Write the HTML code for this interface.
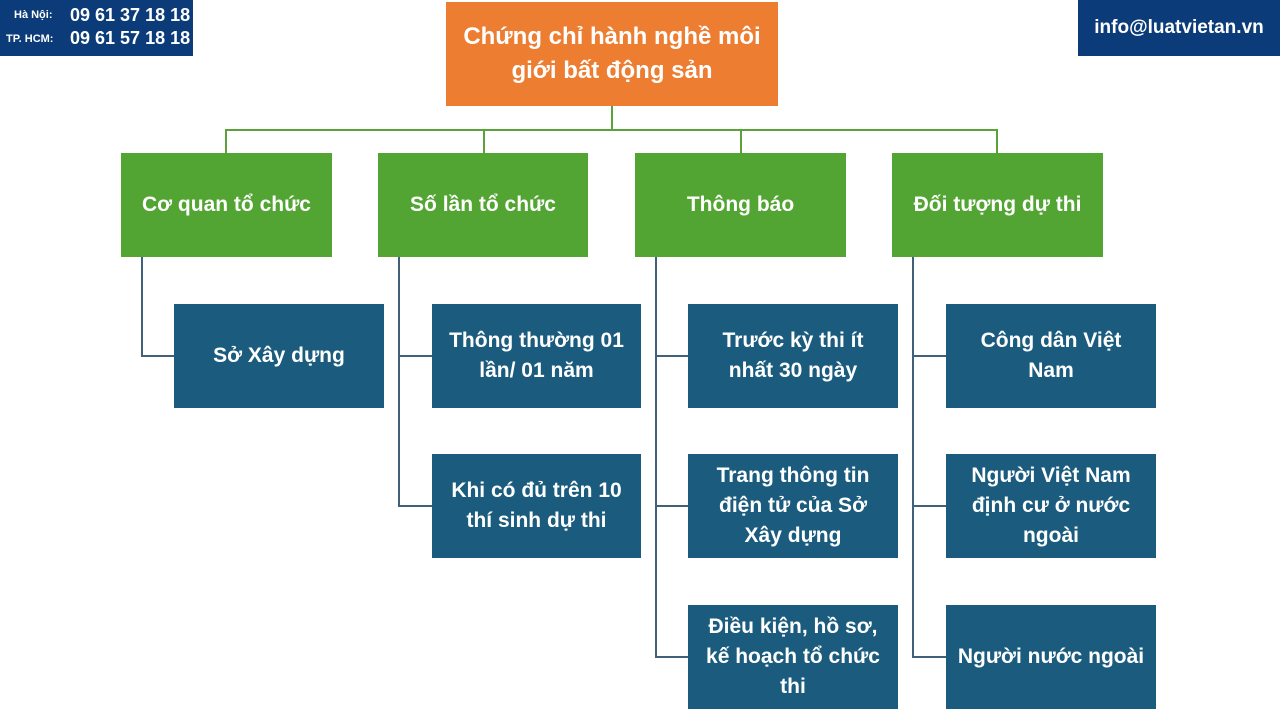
<!DOCTYPE html>
<html><head><meta charset="utf-8"><style>
body{margin:0;width:1280px;height:720px;background:#fff;position:relative;overflow:hidden;font-family:"Liberation Sans","DejaVu Sans",sans-serif}
.b{position:absolute;display:flex;align-items:center;justify-content:center;text-align:center;color:#fff;font-weight:bold;font-size:21px;line-height:30px;box-sizing:border-box;padding:0 4px}
.o{background:#ED7D31;font-size:24px;line-height:34px}
.g{background:#52A532}
.u{background:#1B5C7E}
.l{position:absolute;background:#41607a}
.gl{position:absolute;background:#5aa33a}
.hd{position:absolute;background:#0B3B78;color:#fff;font-weight:bold}
</style></head><body>
<div class="hd" style="left:0;top:0;width:193px;height:56px">
<div style="position:absolute;left:14px;top:9px;font-size:11px">Hà Nội:</div>
<div style="position:absolute;left:6px;top:33px;font-size:11px">TP. HCM:</div>
<div style="position:absolute;left:70px;top:5px;font-size:18px">09 61 37 18 18</div>
<div style="position:absolute;left:70px;top:28px;font-size:18px">09 61 57 18 18</div>
</div>
<div class="hd" style="left:1078px;top:0;width:202px;height:56px;font-size:19px;display:flex;align-items:center;justify-content:center">info@luatvietan.vn</div>

<div class="gl" style="left:611px;top:106px;width:2px;height:24px"></div>
<div class="gl" style="left:225px;top:129px;width:773px;height:2px"></div>
<div class="gl" style="left:225px;top:129px;width:2px;height:24px"></div>
<div class="gl" style="left:483px;top:129px;width:2px;height:24px"></div>
<div class="gl" style="left:740px;top:129px;width:2px;height:24px"></div>
<div class="gl" style="left:996px;top:129px;width:2px;height:24px"></div>

<div class="b o" style="left:446px;top:2px;width:332px;height:104px">Chứng chỉ hành nghề môi<br>giới bất động sản</div>

<div class="b g" style="left:121px;top:153px;width:211px;height:104px">Cơ quan tổ chức</div>
<div class="b g" style="left:378px;top:153px;width:210px;height:104px">Số lần tổ chức</div>
<div class="b g" style="left:635px;top:153px;width:211px;height:104px">Thông báo</div>
<div class="b g" style="left:892px;top:153px;width:211px;height:104px">Đối tượng dự thi</div>

<div class="l" style="left:141px;top:257px;width:2px;height:100px"></div>
<div class="l" style="left:141px;top:355px;width:33px;height:2px"></div>
<div class="l" style="left:398px;top:257px;width:2px;height:250px"></div>
<div class="l" style="left:398px;top:355px;width:34px;height:2px"></div>
<div class="l" style="left:398px;top:505px;width:34px;height:2px"></div>
<div class="l" style="left:655px;top:257px;width:2px;height:401px"></div>
<div class="l" style="left:655px;top:355px;width:33px;height:2px"></div>
<div class="l" style="left:655px;top:505px;width:33px;height:2px"></div>
<div class="l" style="left:655px;top:656px;width:33px;height:2px"></div>
<div class="l" style="left:912px;top:257px;width:2px;height:401px"></div>
<div class="l" style="left:912px;top:355px;width:34px;height:2px"></div>
<div class="l" style="left:912px;top:505px;width:34px;height:2px"></div>
<div class="l" style="left:912px;top:656px;width:34px;height:2px"></div>

<div class="b u" style="left:174px;top:304px;width:210px;height:104px">Sở Xây dựng</div>
<div class="b u" style="left:432px;top:304px;width:209px;height:104px">Thông thường 01<br>lần/ 01 năm</div>
<div class="b u" style="left:432px;top:454px;width:209px;height:104px">Khi có đủ trên 10<br>thí sinh dự thi</div>
<div class="b u" style="left:688px;top:304px;width:210px;height:104px">Trước kỳ thi ít<br>nhất 30 ngày</div>
<div class="b u" style="left:688px;top:454px;width:210px;height:104px">Trang thông tin<br>điện tử của Sở<br>Xây dựng</div>
<div class="b u" style="left:688px;top:605px;width:210px;height:104px">Điều kiện, hồ sơ,<br>kế hoạch tổ chức<br>thi</div>
<div class="b u" style="left:946px;top:304px;width:210px;height:104px">Công dân Việt<br>Nam</div>
<div class="b u" style="left:946px;top:454px;width:210px;height:104px">Người Việt Nam<br>định cư ở nước<br>ngoài</div>
<div class="b u" style="left:946px;top:605px;width:210px;height:104px;padding:0">Người nước ngoài</div>
</body></html>
